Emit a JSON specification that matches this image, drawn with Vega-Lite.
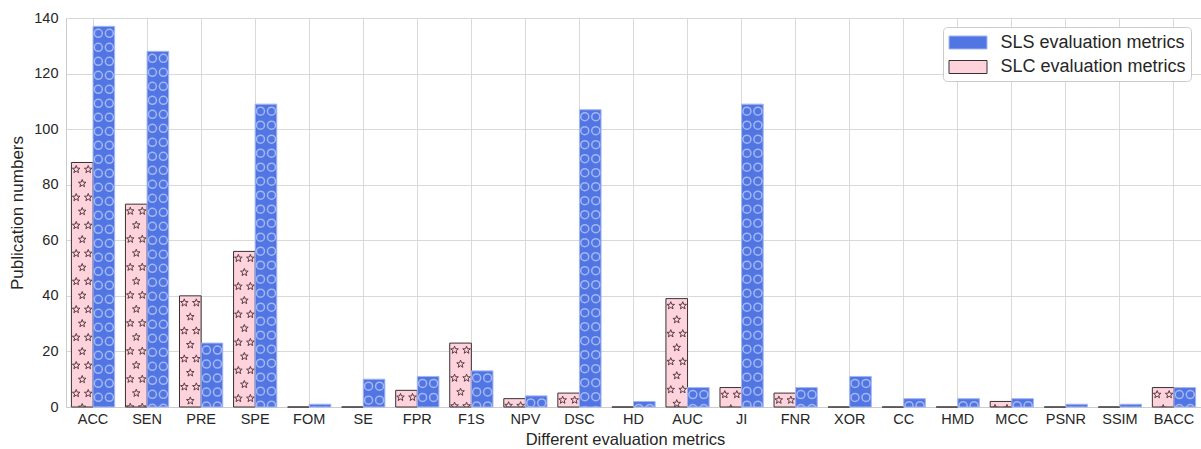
{
  "$schema": "https://vega.github.io/schema/vega-lite/v6.json",
  "width": 1135,
  "height": 389,
  "autosize": {"type": "none"},
  "padding": {"left": 66, "top": 18, "right": 0, "bottom": 42},
  "background": "white",
  "config": {
    "font": "Liberation Sans",
    "view": {"stroke": null},
    "axis": {
      "labelFont": "Liberation Sans",
      "titleFont": "Liberation Sans",
      "labelColor": "#262626",
      "titleColor": "#262626",
      "labelFontSize": 14.5,
      "titleFontSize": 16.5,
      "titleFontWeight": "normal",
      "gridColor": "#d9d9d9",
      "gridWidth": 1,
      "domainColor": "#cccccc",
      "domainWidth": 1,
      "ticks": false
    },
    "legend": {
      "orient": "none",
      "legendX": 877,
      "legendY": 9,
      "padding": 5,
      "strokeColor": "#cccccc",
      "fillColor": "white",
      "cornerRadius": 4,
      "symbolType": "M-1.9,-0.65H1.9V0.65H-1.9Z",
      "symbolSize": 400,
      "symbolStrokeWidth": 1,
      "symbolOffset": 9.5,
      "labelOffset": 22,
      "labelLimit": 0,
      "labelFont": "Liberation Sans",
      "labelFontSize": 18,
      "labelColor": "#262626",
      "rowPadding": 4.5
    }
  },
  "data": {
    "values": [
      {"metric": "ACC", "series": "SLC evaluation metrics", "value": 88},
      {"metric": "ACC", "series": "SLS evaluation metrics", "value": 137},
      {"metric": "SEN", "series": "SLC evaluation metrics", "value": 73},
      {"metric": "SEN", "series": "SLS evaluation metrics", "value": 128},
      {"metric": "PRE", "series": "SLC evaluation metrics", "value": 40},
      {"metric": "PRE", "series": "SLS evaluation metrics", "value": 23},
      {"metric": "SPE", "series": "SLC evaluation metrics", "value": 56},
      {"metric": "SPE", "series": "SLS evaluation metrics", "value": 109},
      {"metric": "FOM", "series": "SLC evaluation metrics", "value": 0},
      {"metric": "FOM", "series": "SLS evaluation metrics", "value": 1},
      {"metric": "SE", "series": "SLC evaluation metrics", "value": 0},
      {"metric": "SE", "series": "SLS evaluation metrics", "value": 10},
      {"metric": "FPR", "series": "SLC evaluation metrics", "value": 6},
      {"metric": "FPR", "series": "SLS evaluation metrics", "value": 11},
      {"metric": "F1S", "series": "SLC evaluation metrics", "value": 23},
      {"metric": "F1S", "series": "SLS evaluation metrics", "value": 13},
      {"metric": "NPV", "series": "SLC evaluation metrics", "value": 3},
      {"metric": "NPV", "series": "SLS evaluation metrics", "value": 4},
      {"metric": "DSC", "series": "SLC evaluation metrics", "value": 5},
      {"metric": "DSC", "series": "SLS evaluation metrics", "value": 107},
      {"metric": "HD", "series": "SLC evaluation metrics", "value": 0},
      {"metric": "HD", "series": "SLS evaluation metrics", "value": 2},
      {"metric": "AUC", "series": "SLC evaluation metrics", "value": 39},
      {"metric": "AUC", "series": "SLS evaluation metrics", "value": 7},
      {"metric": "JI", "series": "SLC evaluation metrics", "value": 7},
      {"metric": "JI", "series": "SLS evaluation metrics", "value": 109},
      {"metric": "FNR", "series": "SLC evaluation metrics", "value": 5},
      {"metric": "FNR", "series": "SLS evaluation metrics", "value": 7},
      {"metric": "XOR", "series": "SLC evaluation metrics", "value": 0},
      {"metric": "XOR", "series": "SLS evaluation metrics", "value": 11},
      {"metric": "CC", "series": "SLC evaluation metrics", "value": 0},
      {"metric": "CC", "series": "SLS evaluation metrics", "value": 3},
      {"metric": "HMD", "series": "SLC evaluation metrics", "value": 0},
      {"metric": "HMD", "series": "SLS evaluation metrics", "value": 3},
      {"metric": "MCC", "series": "SLC evaluation metrics", "value": 2},
      {"metric": "MCC", "series": "SLS evaluation metrics", "value": 3},
      {"metric": "PSNR", "series": "SLC evaluation metrics", "value": 0},
      {"metric": "PSNR", "series": "SLS evaluation metrics", "value": 1},
      {"metric": "SSIM", "series": "SLC evaluation metrics", "value": 0},
      {"metric": "SSIM", "series": "SLS evaluation metrics", "value": 1},
      {"metric": "BACC", "series": "SLC evaluation metrics", "value": 7},
      {"metric": "BACC", "series": "SLS evaluation metrics", "value": 7}
    ]
  },
  "encoding": {
    "x": {
      "field": "metric",
      "type": "nominal",
      "sort": ["ACC", "SEN", "PRE", "SPE", "FOM", "SE", "FPR", "F1S", "NPV", "DSC", "HD", "AUC", "JI", "FNR", "XOR", "CC", "HMD", "MCC", "PSNR", "SSIM", "BACC"],
      "scale": {"paddingInner": 0.2, "paddingOuter": 0.1},
      "axis": {
        "title": "Different evaluation metrics",
        "labelAngle": 0,
        "labelPadding": 5,
        "titlePadding": 6,
        "titleX": 559,
        "grid": true,
        "domain": true
      }
    },
    "xOffset": {
      "field": "series",
      "type": "nominal",
      "scale": {"domain": ["SLC evaluation metrics", "SLS evaluation metrics"], "paddingInner": 0, "paddingOuter": 0}
    },
    "y": {
      "field": "value",
      "type": "quantitative",
      "scale": {"domain": [0, 140], "nice": false},
      "axis": {
        "title": "Publication numbers",
        "titleFontSize": 17,
        "values": [0, 20, 40, 60, 80, 100, 120, 140],
        "labelPadding": 8,
        "titlePadding": 7,
        "grid": true,
        "domain": true
      }
    }
  },
  "layer": [
    {
      "mark": {"type": "bar", "strokeWidth": 1},
      "encoding": {
        "color": {
          "field": "series",
          "type": "nominal",
          "scale": {"domain": ["SLS evaluation metrics", "SLC evaluation metrics"], "range": ["#5275e4", "#ffd3dc"]},
          "legend": {"title": null}
        },
        "stroke": {
          "field": "series",
          "type": "nominal",
          "scale": {"domain": ["SLS evaluation metrics", "SLC evaluation metrics"], "range": ["#a3b7f1", "#3a3034"]},
          "legend": {"title": null}
        }
      }
    },
    {
      "transform": [{"filter": "datum.series === 'SLS evaluation metrics'"}],
      "mark": {
        "type": "point",
        "clip": true,
        "filled": false,
        "opacity": 1,
        "size": 4,
        "stroke": "#a3b7f1",
        "strokeWidth": 1.5,
        "shape": "M-9.5,7a4,4 0 1,0 8,0a4,4 0 1,0 -8,0M1.5,7a4,4 0 1,0 8,0a4,4 0 1,0 -8,0M-9.5,21a4,4 0 1,0 8,0a4,4 0 1,0 -8,0M1.5,21a4,4 0 1,0 8,0a4,4 0 1,0 -8,0M-9.5,35a4,4 0 1,0 8,0a4,4 0 1,0 -8,0M1.5,35a4,4 0 1,0 8,0a4,4 0 1,0 -8,0M-9.5,49a4,4 0 1,0 8,0a4,4 0 1,0 -8,0M1.5,49a4,4 0 1,0 8,0a4,4 0 1,0 -8,0M-9.5,63a4,4 0 1,0 8,0a4,4 0 1,0 -8,0M1.5,63a4,4 0 1,0 8,0a4,4 0 1,0 -8,0M-9.5,77a4,4 0 1,0 8,0a4,4 0 1,0 -8,0M1.5,77a4,4 0 1,0 8,0a4,4 0 1,0 -8,0M-9.5,91a4,4 0 1,0 8,0a4,4 0 1,0 -8,0M1.5,91a4,4 0 1,0 8,0a4,4 0 1,0 -8,0M-9.5,105a4,4 0 1,0 8,0a4,4 0 1,0 -8,0M1.5,105a4,4 0 1,0 8,0a4,4 0 1,0 -8,0M-9.5,119a4,4 0 1,0 8,0a4,4 0 1,0 -8,0M1.5,119a4,4 0 1,0 8,0a4,4 0 1,0 -8,0M-9.5,133a4,4 0 1,0 8,0a4,4 0 1,0 -8,0M1.5,133a4,4 0 1,0 8,0a4,4 0 1,0 -8,0M-9.5,147a4,4 0 1,0 8,0a4,4 0 1,0 -8,0M1.5,147a4,4 0 1,0 8,0a4,4 0 1,0 -8,0M-9.5,161a4,4 0 1,0 8,0a4,4 0 1,0 -8,0M1.5,161a4,4 0 1,0 8,0a4,4 0 1,0 -8,0M-9.5,175a4,4 0 1,0 8,0a4,4 0 1,0 -8,0M1.5,175a4,4 0 1,0 8,0a4,4 0 1,0 -8,0M-9.5,189a4,4 0 1,0 8,0a4,4 0 1,0 -8,0M1.5,189a4,4 0 1,0 8,0a4,4 0 1,0 -8,0M-9.5,203a4,4 0 1,0 8,0a4,4 0 1,0 -8,0M1.5,203a4,4 0 1,0 8,0a4,4 0 1,0 -8,0M-9.5,217a4,4 0 1,0 8,0a4,4 0 1,0 -8,0M1.5,217a4,4 0 1,0 8,0a4,4 0 1,0 -8,0M-9.5,231a4,4 0 1,0 8,0a4,4 0 1,0 -8,0M1.5,231a4,4 0 1,0 8,0a4,4 0 1,0 -8,0M-9.5,245a4,4 0 1,0 8,0a4,4 0 1,0 -8,0M1.5,245a4,4 0 1,0 8,0a4,4 0 1,0 -8,0M-9.5,259a4,4 0 1,0 8,0a4,4 0 1,0 -8,0M1.5,259a4,4 0 1,0 8,0a4,4 0 1,0 -8,0M-9.5,273a4,4 0 1,0 8,0a4,4 0 1,0 -8,0M1.5,273a4,4 0 1,0 8,0a4,4 0 1,0 -8,0M-9.5,287a4,4 0 1,0 8,0a4,4 0 1,0 -8,0M1.5,287a4,4 0 1,0 8,0a4,4 0 1,0 -8,0M-9.5,301a4,4 0 1,0 8,0a4,4 0 1,0 -8,0M1.5,301a4,4 0 1,0 8,0a4,4 0 1,0 -8,0M-9.5,315a4,4 0 1,0 8,0a4,4 0 1,0 -8,0M1.5,315a4,4 0 1,0 8,0a4,4 0 1,0 -8,0M-9.5,329a4,4 0 1,0 8,0a4,4 0 1,0 -8,0M1.5,329a4,4 0 1,0 8,0a4,4 0 1,0 -8,0M-9.5,343a4,4 0 1,0 8,0a4,4 0 1,0 -8,0M1.5,343a4,4 0 1,0 8,0a4,4 0 1,0 -8,0M-9.5,357a4,4 0 1,0 8,0a4,4 0 1,0 -8,0M1.5,357a4,4 0 1,0 8,0a4,4 0 1,0 -8,0M-9.5,371a4,4 0 1,0 8,0a4,4 0 1,0 -8,0M1.5,371a4,4 0 1,0 8,0a4,4 0 1,0 -8,0M-9.5,385a4,4 0 1,0 8,0a4,4 0 1,0 -8,0M1.5,385a4,4 0 1,0 8,0a4,4 0 1,0 -8,0M-9.5,399a4,4 0 1,0 8,0a4,4 0 1,0 -8,0M1.5,399a4,4 0 1,0 8,0a4,4 0 1,0 -8,0"
      }
    },
    {
      "transform": [{"filter": "datum.series === 'SLC evaluation metrics'"}],
      "mark": {
        "type": "point",
        "clip": true,
        "filled": false,
        "opacity": 1,
        "size": 4,
        "stroke": "#5a3d46",
        "strokeWidth": 1,
        "shape": "M-6,3l.99,2.63l2.81,.13l-2.2,1.76l.74,2.71l-2.35,-1.55l-2.35,1.55l.74,-2.71l-2.2,-1.76l2.81,-.13zM6,3l.99,2.63l2.81,.13l-2.2,1.76l.74,2.71l-2.35,-1.55l-2.35,1.55l.74,-2.71l-2.2,-1.76l2.81,-.13zM0,17l.99,2.63l2.81,.13l-2.2,1.76l.74,2.71l-2.35,-1.55l-2.35,1.55l.74,-2.71l-2.2,-1.76l2.81,-.13zM-6,31l.99,2.63l2.81,.13l-2.2,1.76l.74,2.71l-2.35,-1.55l-2.35,1.55l.74,-2.71l-2.2,-1.76l2.81,-.13zM6,31l.99,2.63l2.81,.13l-2.2,1.76l.74,2.71l-2.35,-1.55l-2.35,1.55l.74,-2.71l-2.2,-1.76l2.81,-.13zM0,45l.99,2.63l2.81,.13l-2.2,1.76l.74,2.71l-2.35,-1.55l-2.35,1.55l.74,-2.71l-2.2,-1.76l2.81,-.13zM-6,59l.99,2.63l2.81,.13l-2.2,1.76l.74,2.71l-2.35,-1.55l-2.35,1.55l.74,-2.71l-2.2,-1.76l2.81,-.13zM6,59l.99,2.63l2.81,.13l-2.2,1.76l.74,2.71l-2.35,-1.55l-2.35,1.55l.74,-2.71l-2.2,-1.76l2.81,-.13zM0,73l.99,2.63l2.81,.13l-2.2,1.76l.74,2.71l-2.35,-1.55l-2.35,1.55l.74,-2.71l-2.2,-1.76l2.81,-.13zM-6,87l.99,2.63l2.81,.13l-2.2,1.76l.74,2.71l-2.35,-1.55l-2.35,1.55l.74,-2.71l-2.2,-1.76l2.81,-.13zM6,87l.99,2.63l2.81,.13l-2.2,1.76l.74,2.71l-2.35,-1.55l-2.35,1.55l.74,-2.71l-2.2,-1.76l2.81,-.13zM0,101l.99,2.63l2.81,.13l-2.2,1.76l.74,2.71l-2.35,-1.55l-2.35,1.55l.74,-2.71l-2.2,-1.76l2.81,-.13zM-6,115l.99,2.63l2.81,.13l-2.2,1.76l.74,2.71l-2.35,-1.55l-2.35,1.55l.74,-2.71l-2.2,-1.76l2.81,-.13zM6,115l.99,2.63l2.81,.13l-2.2,1.76l.74,2.71l-2.35,-1.55l-2.35,1.55l.74,-2.71l-2.2,-1.76l2.81,-.13zM0,129l.99,2.63l2.81,.13l-2.2,1.76l.74,2.71l-2.35,-1.55l-2.35,1.55l.74,-2.71l-2.2,-1.76l2.81,-.13zM-6,143l.99,2.63l2.81,.13l-2.2,1.76l.74,2.71l-2.35,-1.55l-2.35,1.55l.74,-2.71l-2.2,-1.76l2.81,-.13zM6,143l.99,2.63l2.81,.13l-2.2,1.76l.74,2.71l-2.35,-1.55l-2.35,1.55l.74,-2.71l-2.2,-1.76l2.81,-.13zM0,157l.99,2.63l2.81,.13l-2.2,1.76l.74,2.71l-2.35,-1.55l-2.35,1.55l.74,-2.71l-2.2,-1.76l2.81,-.13zM-6,171l.99,2.63l2.81,.13l-2.2,1.76l.74,2.71l-2.35,-1.55l-2.35,1.55l.74,-2.71l-2.2,-1.76l2.81,-.13zM6,171l.99,2.63l2.81,.13l-2.2,1.76l.74,2.71l-2.35,-1.55l-2.35,1.55l.74,-2.71l-2.2,-1.76l2.81,-.13zM0,185l.99,2.63l2.81,.13l-2.2,1.76l.74,2.71l-2.35,-1.55l-2.35,1.55l.74,-2.71l-2.2,-1.76l2.81,-.13zM-6,199l.99,2.63l2.81,.13l-2.2,1.76l.74,2.71l-2.35,-1.55l-2.35,1.55l.74,-2.71l-2.2,-1.76l2.81,-.13zM6,199l.99,2.63l2.81,.13l-2.2,1.76l.74,2.71l-2.35,-1.55l-2.35,1.55l.74,-2.71l-2.2,-1.76l2.81,-.13zM0,213l.99,2.63l2.81,.13l-2.2,1.76l.74,2.71l-2.35,-1.55l-2.35,1.55l.74,-2.71l-2.2,-1.76l2.81,-.13zM-6,227l.99,2.63l2.81,.13l-2.2,1.76l.74,2.71l-2.35,-1.55l-2.35,1.55l.74,-2.71l-2.2,-1.76l2.81,-.13zM6,227l.99,2.63l2.81,.13l-2.2,1.76l.74,2.71l-2.35,-1.55l-2.35,1.55l.74,-2.71l-2.2,-1.76l2.81,-.13zM0,241l.99,2.63l2.81,.13l-2.2,1.76l.74,2.71l-2.35,-1.55l-2.35,1.55l.74,-2.71l-2.2,-1.76l2.81,-.13zM-6,255l.99,2.63l2.81,.13l-2.2,1.76l.74,2.71l-2.35,-1.55l-2.35,1.55l.74,-2.71l-2.2,-1.76l2.81,-.13zM6,255l.99,2.63l2.81,.13l-2.2,1.76l.74,2.71l-2.35,-1.55l-2.35,1.55l.74,-2.71l-2.2,-1.76l2.81,-.13zM0,269l.99,2.63l2.81,.13l-2.2,1.76l.74,2.71l-2.35,-1.55l-2.35,1.55l.74,-2.71l-2.2,-1.76l2.81,-.13z"
      }
    }
  ]
}
